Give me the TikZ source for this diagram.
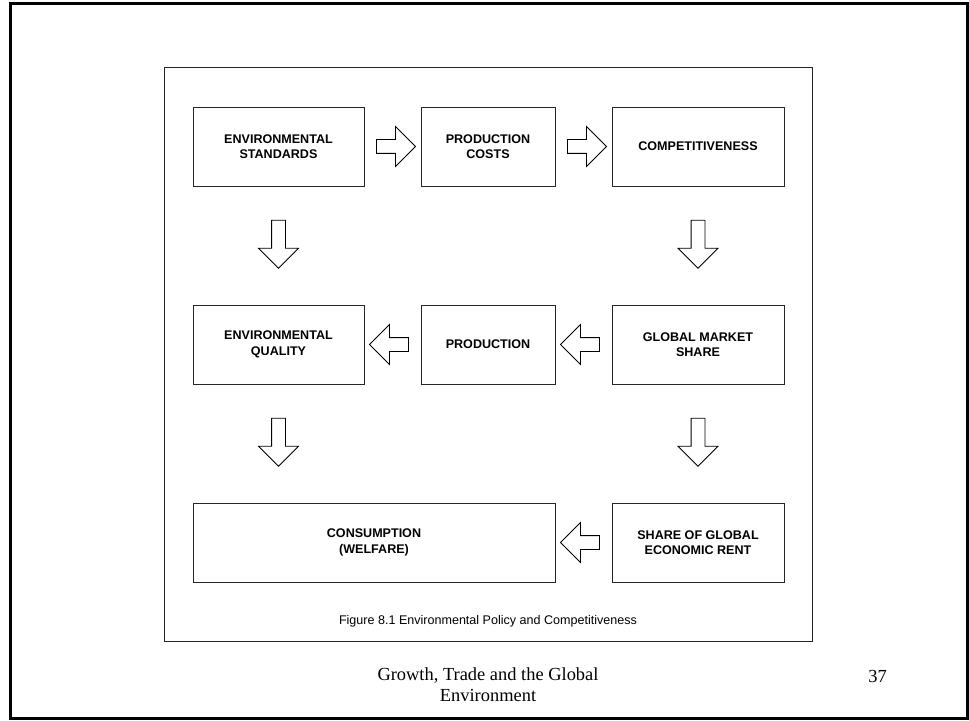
\documentclass[tikz,border=0pt]{standalone}
\usepackage{fontspec}
\setmainfont{Liberation Serif}
\newfontfamily\arialfont{Liberation Sans}
\usetikzlibrary{shapes.arrows, calc}

\begin{document}
\begin{tikzpicture}[
    x=1bp, y=-1bp,
    box/.style={rectangle, draw=black!85, line width=0.9bp, minimum width=#1, minimum height=79bp,
        inner sep=0pt, align=center, font=\arialfont\bfseries\fontsize{12.6}{15.4}\selectfont},
    seta/.style={single arrow, draw, line width=0.8bp, inner sep=6.5bp, minimum height=39bp,
        single arrow head extend=13bp, single arrow tip angle=90},
    setabaixo/.style={seta, shape border rotate=270, minimum height=48bp}
]
    \fill[white] (0,0) rectangle (969,721);
    \useasboundingbox (0,0) rectangle (969,721);

    % Molduras
    \draw[line width=3bp] (10.7,3.7) rectangle (967.5,718.5);
    \draw[line width=0.9bp, black!85] (164,67.7) rectangle (812.7,641);

    % Caixas
    \node[box=171bp] (es) at (278.5,146.5) {ENVIRONMENTAL\\STANDARDS};
    \node[box=134bp] (pc) at (488,146.5) {PRODUCTION\\COSTS};
    \node[box=172bp] (co) at (698,146.5) {COMPETITIVENESS};

    \node[box=171bp] (eq) at (278.5,344.5) {ENVIRONMENTAL\\QUALITY};
    \node[box=134bp] (pr) at (488,344.5) {PRODUCTION};
    \node[box=172bp] (gms) at (698,344.5) {GLOBAL MARKET\\SHARE};

    \node[box=362bp] (cw) at (374,542.5) {CONSUMPTION\\(WELFARE)};
    \node[box=172bp] (sger) at (698,542.5) {SHARE OF GLOBAL\\ECONOMIC RENT};

    % Setas
    \node[seta] (s1) at ($(es.east)!.5!(pc.west)$) {};
    \node[seta] (s2) at ($(pc.east)!.5!(co.west)$) {};
    \node[setabaixo] (s3) at ($(es.south)!.46!(eq.north)$) {};
    \node[setabaixo] (s4) at ($(co.south)!.46!(gms.north)$) {};
    \node[seta, shape border rotate=180] (s5) at ($(gms.west)!.5!(pr.east)$) {};
    \node[seta, shape border rotate=180] (s6) at ($(pr.west)!.5!(eq.east)$) {};
    \node[setabaixo] (s7) at ($(eq.south)!.46!(eq.south |- cw.north)$) {};
    \node[setabaixo] (s8) at ($(gms.south)!.46!(sger.north)$) {};
    \node[seta, shape border rotate=180] (s9) at ($(sger.west)!.5!(cw.east)$) {};

    % Textos
    \node[inner sep=0pt, font=\arialfont\fontsize{12.6}{15}\selectfont] (legenda) at (488,621.7)
        {Figure 8.1 Environmental Policy and Competitiveness};
    \node[inner sep=0pt, align=center, font=\fontsize{18.5}{21.3}\selectfont] (rodape) at (488,684.8)
        {Growth, Trade and the Global\\Environment};
    \node[inner sep=0pt, font=\fontsize{18.5}{21.3}\selectfont] (pagina) at (877.5,676) {37};
\end{tikzpicture}
\end{document}
